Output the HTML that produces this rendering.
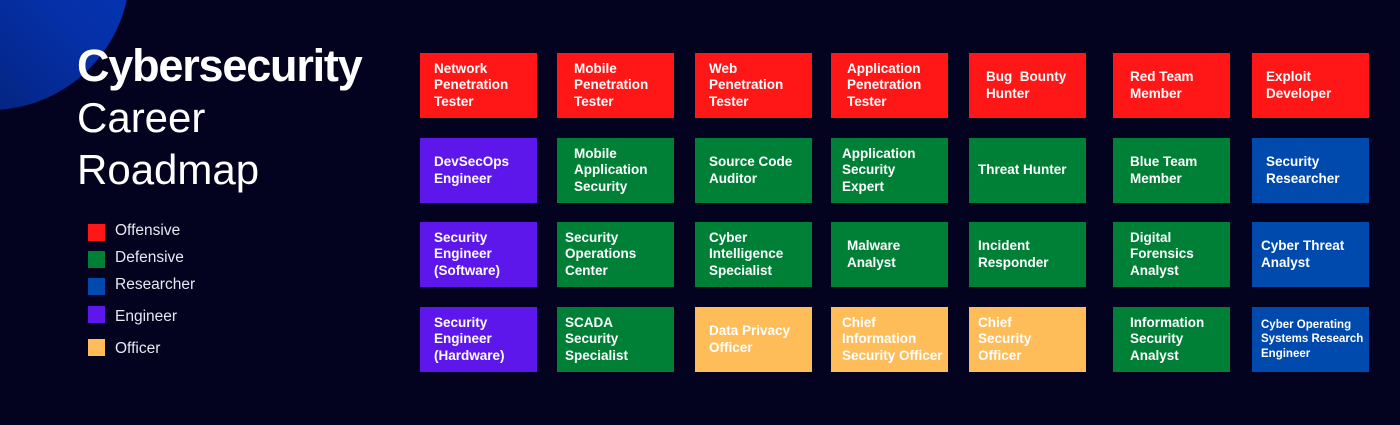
<!DOCTYPE html>
<html><head><style>
body{margin:0;width:1400px;height:425px;background:#03021f;overflow:hidden;position:relative;font-family:"Liberation Sans",sans-serif;color:#fff}
.circ{position:absolute;left:-150px;top:-170px;width:280px;height:280px;border-radius:50%;background:linear-gradient(45deg,#031a60 0%,#0530a8 55%,#0638c0 100%)}
.t{position:absolute;left:77px;white-space:nowrap}
.sq{position:absolute;left:88px;width:17px;height:17px}
.lg{position:absolute;left:115px;font-size:15.5px;color:#e8e8f0}
.c{position:absolute;width:117px;height:65px;display:flex;align-items:center;box-sizing:border-box;padding-left:14px;font-weight:bold;font-size:13.5px;line-height:16.5px}
.r{background:#ff1616}.g{background:#008037}.b{background:#004aad}.p{background:#5e17eb}.o{background:#ffbd59}
</style></head><body>
<div class="circ"></div>
<div class="t" style="top:40px;font-size:45px;font-weight:bold;letter-spacing:-1.2px">Cybersecurity</div>
<div class="t" style="top:94px;font-size:42px;font-weight:200">Career</div>
<div class="t" style="top:146px;font-size:42px;font-weight:200">Roadmap</div>
<div class="sq r" style="top:224px"></div><div class="lg" style="top:222px">Offensive</div>
<div class="sq g" style="top:251px"></div><div class="lg" style="top:249px">Defensive</div>
<div class="sq b" style="top:278px"></div><div class="lg" style="top:276px">Researcher</div>
<div class="sq p" style="top:306px"></div><div class="lg" style="top:308px">Engineer</div>
<div class="sq o" style="top:339px"></div><div class="lg" style="top:340px">Officer</div>

<div class="c r" style="left:420px;top:53px">Network<br>Penetration<br>Tester</div>
<div class="c r" style="left:557px;top:53px;padding-left:17px">Mobile<br>Penetration<br>Tester</div>
<div class="c r" style="left:695px;top:53px">Web<br>Penetration<br>Tester</div>
<div class="c r" style="left:831px;top:53px;padding-left:16px">Application<br>Penetration<br>Tester</div>
<div class="c r" style="left:969px;top:53px;padding-left:17px">Bug&nbsp; Bounty<br>Hunter</div>
<div class="c r" style="left:1113px;top:53px;padding-left:17px">Red Team<br>Member</div>
<div class="c r" style="left:1252px;top:53px;padding-left:14px">Exploit<br>Developer</div>

<div class="c p" style="left:420px;top:138px">DevSecOps<br>Engineer</div>
<div class="c g" style="left:557px;top:138px;padding-left:17px">Mobile<br>Application<br>Security</div>
<div class="c g" style="left:695px;top:138px">Source Code<br>Auditor</div>
<div class="c g" style="left:831px;top:138px;padding-left:11px">Application<br>Security<br>Expert</div>
<div class="c g" style="left:969px;top:138px;padding-left:9px">Threat Hunter</div>
<div class="c g" style="left:1113px;top:138px;padding-left:17px">Blue Team<br>Member</div>
<div class="c b" style="left:1252px;top:138px;padding-left:14px">Security<br>Researcher</div>

<div class="c p" style="left:420px;top:222px">Security<br>Engineer<br>(Software)</div>
<div class="c g" style="left:557px;top:222px;padding-left:8px">Security<br>Operations<br>Center</div>
<div class="c g" style="left:695px;top:222px">Cyber<br>Intelligence<br>Specialist</div>
<div class="c g" style="left:831px;top:222px;padding-left:16px">Malware<br>Analyst</div>
<div class="c g" style="left:969px;top:222px;padding-left:9px">Incident<br>Responder</div>
<div class="c g" style="left:1113px;top:222px;padding-left:17px">Digital<br>Forensics<br>Analyst</div>
<div class="c b" style="left:1252px;top:222px;padding-left:9px">Cyber Threat<br>Analyst</div>

<div class="c p" style="left:420px;top:307px">Security<br>Engineer<br>(Hardware)</div>
<div class="c g" style="left:557px;top:307px;padding-left:8px">SCADA<br>Security<br>Specialist</div>
<div class="c o" style="left:695px;top:307px">Data Privacy<br>Officer</div>
<div class="c o" style="left:831px;top:307px;padding-left:11px;white-space:nowrap">Chief<br>Information<br>Security Officer</div>
<div class="c o" style="left:969px;top:307px;padding-left:9px">Chief<br>Security<br>Officer</div>
<div class="c g" style="left:1113px;top:307px;padding-left:17px">Information<br>Security<br>Analyst</div>
<div class="c b" style="left:1252px;top:307px;padding-left:9px;font-size:11.5px;line-height:14.5px;white-space:nowrap">Cyber Operating<br>Systems Research<br>Engineer</div>
</body></html>
